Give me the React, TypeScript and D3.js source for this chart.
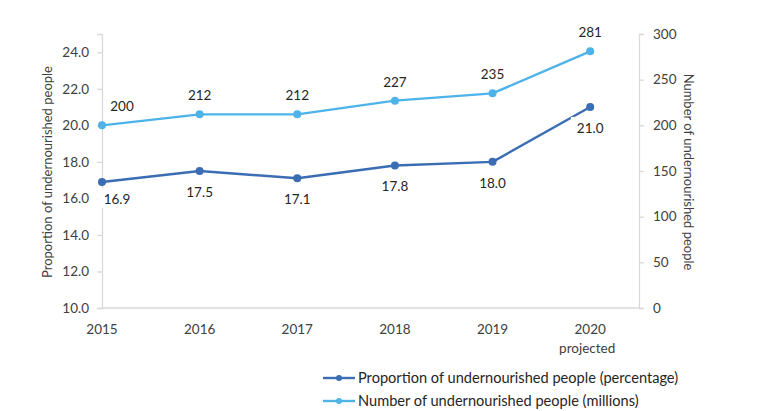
import React, { useEffect, useRef } from 'react';
import * as d3 from 'd3';

const years = ['2015', '2016', '2017', '2018', '2019', '2020'];
const yearNotes = ['', '', '', '', '', 'projected'];
const proportion = [16.9, 17.5, 17.1, 17.8, 18.0, 21.0];
const undernourished = [200, 212, 212, 227, 235, 281];
const leftTicks = [10, 12, 14, 16, 18, 20, 22, 24];
const rightTicks = [0, 50, 100, 150, 200, 250, 300];

const DARK = '#3a6db3';
const LIGHT = '#4db3e9';
const AXIS = '#d9d9d9';
const TEXT = '#404040';
const FONT = 'Lato, "Open Sans", sans-serif';

const App = () => {
  const svgRef = useRef<SVGSVGElement>(null);

  useEffect(() => {
    const width = 770;
    const height = 411;
    const margin = { top: 34, right: 131, bottom: 103, left: 102 };
    const plotRight = width - margin.right;
    const plotBottom = height - margin.bottom;

    const svg = d3.select(svgRef.current);
    svg.selectAll('*').remove();
    svg.attr('width', width).attr('height', height);

    // points sit on the left axis; the right axis is half a step past the last one
    const x = d3.scaleLinear().domain([0, years.length - 0.5]).range([margin.left, plotRight]);
    const yLeft = d3.scaleLinear().domain([10, 25]).range([plotBottom, margin.top]);
    const yRight = d3.scaleLinear().domain([0, 300]).range([plotBottom, margin.top]);

    const leftAxis = svg.append('g')
      .attr('transform', `translate(${margin.left},0)`)
      .call(d3.axisLeft(yLeft).tickValues(leftTicks).tickFormat(d3.format('.1f')).tickSize(5).tickPadding(8));
    const rightAxis = svg.append('g')
      .attr('transform', `translate(${plotRight},0)`)
      .call(d3.axisRight(yRight).tickValues(rightTicks).tickSize(5).tickPadding(9));

    [leftAxis, rightAxis].forEach((a) => {
      a.select('.domain').attr('stroke', AXIS).attr('stroke-width', 1.3);
      a.selectAll('line').attr('stroke', AXIS).attr('stroke-width', 1.3);
      a.selectAll('text').attr('fill', TEXT).style('font-size', '13.5px').style('font-family', FONT);
    });

    svg.append('line')
      .attr('x1', margin.left).attr('x2', plotRight)
      .attr('y1', plotBottom).attr('y2', plotBottom)
      .attr('stroke', AXIS).attr('stroke-width', 1.3);

    const xLabels = svg.append('g')
      .style('font-family', FONT)
      .attr('fill', TEXT)
      .attr('text-anchor', 'middle');
    years.forEach((yr, i) => {
      xLabels.append('text')
        .attr('x', x(i)).attr('y', plotBottom + 26)
        .style('font-size', '13.5px').text(yr);
      if (yearNotes[i]) {
        xLabels.append('text')
          .attr('x', x(i) - 3).attr('y', plotBottom + 45)
          .style('font-size', '13.5px').text(yearNotes[i]);
      }
    });

    svg.append('text')
      .attr('transform', `translate(52,${(margin.top + plotBottom) / 2 + 1}) rotate(-90)`)
      .attr('text-anchor', 'middle')
      .style('font-family', FONT).style('font-size', '13px')
      .attr('fill', TEXT)
      .text('Proportion of undernourished people');

    svg.append('text')
      .attr('transform', `translate(684,${(margin.top + plotBottom) / 2 + 1}) rotate(90)`)
      .attr('text-anchor', 'middle')
      .style('font-family', FONT).style('font-size', '13px')
      .attr('fill', TEXT)
      .text('Number of undernourished people');

    const series = [
      { values: undernourished, scale: yRight, color: LIGHT, fmt: d3.format('d'), above: true },
      { values: proportion, scale: yLeft, color: DARK, fmt: d3.format('.1f'), above: false },
    ];

    series.forEach((s) => {
      const line = d3.line<number>().x((_, i) => x(i)).y((d) => s.scale(d));
      svg.append('path')
        .datum(s.values)
        .attr('d', line)
        .attr('fill', 'none')
        .attr('stroke', s.color)
        .attr('stroke-width', 2.4)
        .attr('stroke-linejoin', 'round');
    });

    series.forEach((s) => {
      svg.append('g').selectAll('circle')
        .data(s.values)
        .enter()
        .append('circle')
        .attr('cx', (_, i) => x(i))
        .attr('cy', (d) => s.scale(d))
        .attr('r', 4)
        .attr('fill', s.color);

      const labels = svg.append('g');
      s.values.forEach((v, i) => {
        // the first label is nudged right, clear of the axis
        const dx = i === 0 ? (s.above ? 20 : 15) : 0;
        const dy = s.above ? -19 : (i === 0 ? 17 : 21);
        const lg = labels.append('g');
        const bg = lg.append('rect').attr('fill', '#fff');
        const t = lg.append('text')
          .attr('x', x(i) + dx)
          .attr('y', s.scale(v) + dy)
          .attr('dy', '0.36em')
          .attr('text-anchor', 'middle')
          .attr('fill', '#262626')
          .style('font-family', FONT)
          .style('font-size', '13.5px')
          .text(s.fmt(v));
        if (!s.above) {
          const b = (t.node() as SVGTextElement).getBBox();
          bg.attr('x', b.x - 6).attr('y', b.y - 3).attr('width', b.width + 10).attr('height', b.height + 4);
        }
      });
    });

    const legendItems = [
      { label: 'Proportion of undernourished people (percentage)', color: DARK },
      { label: 'Number of undernourished people (millions)', color: LIGHT },
    ];
    const legend = svg.append('g').attr('transform', 'translate(323,378)');
    legendItems.forEach((item, i) => {
      const g = legend.append('g').attr('transform', `translate(0,${i * 23})`);
      g.append('line').attr('x1', 0).attr('x2', 32).attr('y1', 0).attr('y2', 0)
        .attr('stroke', item.color).attr('stroke-width', 2.4);
      g.append('circle').attr('cx', 16).attr('cy', 0).attr('r', 3).attr('fill', item.color);
      g.append('text')
        .attr('x', 35).attr('y', 0).attr('dy', '0.36em')
        .attr('fill', '#262626')
        .style('font-family', FONT).style('font-size', '14.6px')
        .text(item.label);
    });
  }, []);

  return (
    <div style={{ position: 'absolute', left: 0, top: 0, width: 770, height: 411, background: '#fff' }}>
      <svg ref={svgRef} />
    </div>
  );
};

export default App;
